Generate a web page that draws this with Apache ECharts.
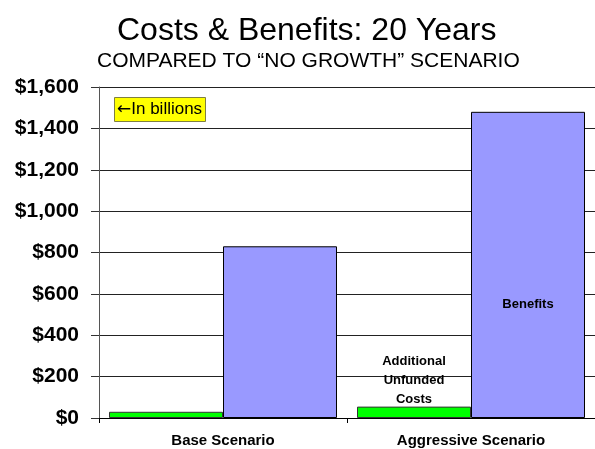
<!DOCTYPE html>
<html>
<head>
<meta charset="utf-8">
<script src="https://cdn.jsdelivr.net/npm/echarts@6/dist/echarts.min.js"></script>
<style>
html,body{margin:0;padding:0;background:#fff;}
#chart{width:595px;height:449px;}
</style>
</head>
<body>
<div id="chart"></div>
<script>
const categories = ['Base Scenario', 'Aggressive Scenario'];
const costs = [30, 55];
const benefits = [830, 1480];
const yTicks = [0, 200, 400, 600, 800, 1000, 1200, 1400, 1600];

const FONT = '"Liberation Sans", Arial, sans-serif';
const chart = echarts.init(document.getElementById('chart'));

const costData = costs.map((v, i) => i === 1 ? {
  value: v,
  label: {
    show: true, position: 'top', distance: -2,
    formatter: 'Additional\nUnfunded\nCosts',
    fontFamily: FONT, fontWeight: 'bold', fontSize: 13, lineHeight: 19, color: '#000'
  }
} : v);
const benefitData = benefits.map((v, i) => i === 1 ? {
  value: v,
  label: {
    show: true, position: ['50%', '63%'], align: 'center', verticalAlign: 'middle',
    formatter: 'Benefits',
    fontFamily: FONT, fontWeight: 'bold', fontSize: 13, color: '#000'
  }
} : v);

chart.setOption({
  backgroundColor: '#fff',
  animation: false,
  title: [
    { text: 'Costs & Benefits: 20 Years', left: 112, top: 10,
      textStyle: { fontFamily: FONT, fontSize: 32, fontWeight: 'normal', color: '#000' } },
    { text: 'COMPARED TO \u201CNO GROWTH\u201D SCENARIO', left: 92, top: 46,
      textStyle: { fontFamily: FONT, fontSize: 21, fontWeight: 'normal', color: '#000' } },
    { text: '{a|\u2190}{b|In billions}', left: 114, top: 97,
      backgroundColor: '#FFFF00', borderColor: '#7f7f40', borderWidth: 1,
      padding: [4, 4, 4, 3],
      textStyle: {
        fontWeight: 'normal',
        rich: {
          a: { fontFamily: '"DejaVu Sans", sans-serif', fontSize: 17, fontWeight: 'normal', color: '#000' },
          b: { fontFamily: FONT, fontSize: 17, fontWeight: 'normal', color: '#000' }
        }
      } }
  ],
  grid: { left: 99, top: 87, width: 500, height: 331, containLabel: false },
  xAxis: {
    type: 'category',
    data: categories,
    axisLine: { show: true, lineStyle: { color: '#000', width: 1 } },
    axisTick: { show: true, length: 5, lineStyle: { color: '#000' } },
    axisLabel: { fontFamily: FONT, fontWeight: 'bold', fontSize: 15, color: '#000', margin: 15 }
  },
  yAxis: {
    type: 'value',
    min: 0, max: 1600, interval: 200,
    axisLine: { show: true, lineStyle: { color: '#555', width: 1 } },
    axisTick: { show: true, length: 8, lineStyle: { color: '#333' } },
    axisLabel: {
      fontFamily: FONT, fontWeight: 'bold', fontSize: 21, color: '#000', margin: 20,
      formatter: v => yTicks.includes(v) ? '$' + v.toLocaleString('en-US') : ''
    },
    splitLine: { show: true, lineStyle: { color: '#222', width: 1 } }
  },
  series: [
    { name: 'Costs', type: 'bar', data: costData, barWidth: 114, barGap: '0%',
      itemStyle: { color: '#00FF00', borderColor: '#333', borderWidth: 1 } },
    { name: 'Benefits', type: 'bar', data: benefitData, barWidth: 114, barGap: '0%',
      itemStyle: { color: '#9999FF', borderColor: '#000', borderWidth: 1 } }
  ]
});
</script>
</body>
</html>
